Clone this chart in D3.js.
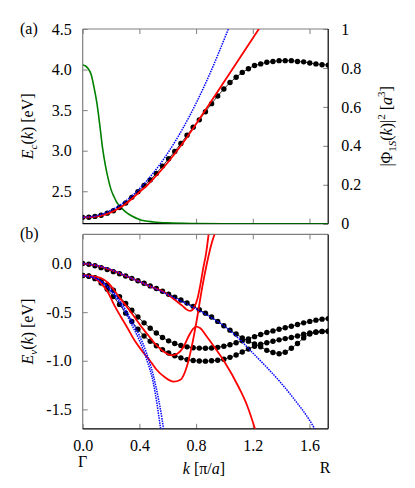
<html>
<head>
<meta charset="utf-8">
<title>band structure</title>
<style>
body { margin: 0; background: #fff; }
text { font-family: 'Liberation Serif', 'Times New Roman', serif; font-size: 16px; fill: #000; }
.tick line { stroke: #808080; }
</style>
</head>
<body>
<div id="chart"></div>
<script src="https://cdnjs.cloudflare.com/ajax/libs/d3/7.8.5/d3.min.js"></script>
<script>

// k grid of the computed points, Gamma -> R  [pi/a]
var kGrid = [0, 0.0433, 0.0866, 0.1299, 0.1732, 0.2165, 0.2598, 0.3031, 0.3464, 0.3897,
  0.4330, 0.4763, 0.5196, 0.5629, 0.6062, 0.6495, 0.6928, 0.7361, 0.7794, 0.8227,
  0.8660, 0.9093, 0.9526, 0.9959, 1.0392, 1.0825, 1.1258, 1.1691, 1.2124, 1.2557,
  1.2990, 1.3423, 1.3856, 1.4289, 1.4722, 1.5155, 1.5588, 1.6021, 1.6454, 1.6887, 1.7321];

// (a) conduction band, dots
var ecDots = [2.178, 2.18, 2.19, 2.205, 2.23, 2.26, 2.30, 2.355, 2.425, 2.495,
  2.57, 2.64, 2.72, 2.81, 2.90, 2.99, 3.09, 3.19, 3.29, 3.38,
  3.48, 3.58, 3.675, 3.76, 3.84, 3.905, 3.965, 4.01, 4.05, 4.07,
  4.09, 4.10, 4.11, 4.11, 4.11, 4.10, 4.095, 4.08, 4.07, 4.06, 4.055];

var ecRed = [[0, 2.178], [0.05, 2.181], [0.1, 2.19], [0.15, 2.21], [0.2, 2.24], [0.25, 2.285],
  [0.3, 2.34], [0.35, 2.41], [0.4, 2.49], [0.45, 2.565], [0.5, 2.655], [0.6, 2.855],
  [0.7, 3.08], [0.8, 3.33], [0.9, 3.59], [1.0, 3.855], [1.1, 4.12], [1.2, 4.385], [1.25, 4.52]];

var ecBlue = [[0, 2.178], [0.1, 2.20], [0.2, 2.265], [0.3, 2.375], [0.4, 2.53], [0.5, 2.73],
  [0.6, 2.97], [0.7, 3.255], [0.8, 3.585], [0.9, 3.96], [1.0, 4.38], [1.03, 4.51]];

// |Phi_1S(k)|^2, right axis
var phiGreen = [[0, 0.815], [0.02, 0.81], [0.04, 0.795], [0.06, 0.765], [0.08, 0.70], [0.10, 0.62],
  [0.12, 0.51], [0.14, 0.39], [0.16, 0.30], [0.18, 0.23], [0.20, 0.175], [0.22, 0.14],
  [0.24, 0.11], [0.26, 0.092], [0.30, 0.062], [0.35, 0.038], [0.40, 0.022], [0.5, 0.009],
  [0.6, 0.004], [0.8, 0.001], [1.0, 0], [1.732, 0]];

// (b) valence bands, dots
var evDotsA = [0, -0.007, -0.023, -0.042, -0.062, -0.083, -0.105, -0.128, -0.152, -0.177,
  -0.203, -0.23, -0.257, -0.285, -0.315, -0.345, -0.375, -0.405, -0.44, -0.475,
  -0.51, -0.55, -0.595, -0.64, -0.685, -0.725, -0.765, -0.798, -0.828, -0.856,
  -0.893, -0.915, -0.928, -0.912, -0.872, -0.822, -0.765, -0.725, -0.707, -0.699, -0.696];
var evDotsB = [-0.123, -0.128, -0.145, -0.175, -0.22, -0.275, -0.34, -0.41, -0.48, -0.55,
  -0.61, -0.665, -0.715, -0.76, -0.795, -0.823, -0.843, -0.857, -0.866, -0.87,
  -0.871, -0.869, -0.862, -0.85, -0.835, -0.815, -0.795, -0.775, -0.752, -0.73,
  -0.71, -0.693, -0.676, -0.66, -0.645, -0.627, -0.61, -0.595, -0.582, -0.572, -0.566];
var evDotsC = [-0.123, -0.13, -0.155, -0.2, -0.265, -0.34, -0.42, -0.51, -0.595, -0.675,
  -0.745, -0.80, -0.845, -0.885, -0.92, -0.948, -0.97, -0.988, -0.998, -1.003,
  -1.004, -1.0, -0.995, -0.985, -0.965, -0.94, -0.91, -0.88, -0.85, -0.83,
  -0.815, -0.80, -0.785, -0.772, -0.76, -0.745, -0.728, -0.713, -0.703, -0.698, -0.696];

var evRed1 = [[0, 0], [0.1, -0.02], [0.2, -0.065], [0.3, -0.125], [0.4, -0.185], [0.5, -0.25],
  [0.57, -0.29], [0.62, -0.34], [0.66, -0.385], [0.7, -0.43], [0.73, -0.47], [0.757, -0.487],
  [0.775, -0.475], [0.79, -0.44], [0.81, -0.36], [0.83, -0.22], [0.85, -0.05], [0.87, 0.1], [0.89, 0.32]];
var evRed2 = [[0, -0.123], [0.06, -0.128], [0.12, -0.145], [0.18, -0.2], [0.22, -0.27], [0.26, -0.35],
  [0.31, -0.44], [0.37, -0.56], [0.43, -0.68], [0.48, -0.77], [0.52, -0.84], [0.58, -0.915],
  [0.63, -0.945], [0.67, -0.925], [0.71, -0.86], [0.75, -0.74], [0.78, -0.67], [0.80, -0.648],
  [0.83, -0.665], [0.87, -0.74], [0.92, -0.84], [1.0, -1.01], [1.1, -1.27], [1.16, -1.46], [1.22, -1.72]];
var evRed3 = [[0, -0.123], [0.06, -0.135], [0.12, -0.19], [0.18, -0.3], [0.22, -0.42], [0.27, -0.55],
  [0.31, -0.648], [0.37, -0.80], [0.43, -0.92], [0.48, -1.01], [0.52, -1.09], [0.58, -1.17],
  [0.64, -1.215], [0.69, -1.195], [0.735, -1.06], [0.77, -0.85], [0.805, -0.58], [0.84, -0.27],
  [0.876, 0.0], [0.91, 0.21], [0.935, 0.32]];

var evBlue1 = [[0, 0], [0.1, -0.02], [0.2, -0.063], [0.3, -0.124], [0.4, -0.185], [0.5, -0.25],
  [0.6, -0.318], [0.7, -0.39], [0.8, -0.465], [0.9, -0.55], [1.0, -0.645], [1.1, -0.77],
  [1.2, -0.92], [1.3, -1.07], [1.4, -1.23], [1.5, -1.41], [1.6, -1.61], [1.645, -1.72]];
var evBlue2 = [[0, -0.123], [0.1, -0.155], [0.2, -0.27], [0.3, -0.47], [0.35, -0.6], [0.4, -0.74],
  [0.45, -0.92], [0.5, -1.16], [0.53, -1.36], [0.56, -1.6], [0.572, -1.72]];
var evBlue3 = [[0, -0.123], [0.1, -0.16], [0.2, -0.285], [0.3, -0.5], [0.35, -0.64], [0.4, -0.79],
  [0.45, -0.98], [0.5, -1.24], [0.525, -1.45], [0.54, -1.6], [0.552, -1.72]];

var xTicks = [0, 0.4, 0.8, 1.2, 1.6];
var ecTicks = [2.5, 3.0, 3.5, 4.0, 4.5];
var phiTicks = [0, 0.2, 0.4, 0.6, 0.8, 1];
var phiTickLabels = ["0", "0.2", "0.4", "0.6", "0.8", "1"];
var evTicks = [-1.5, -1.0, -0.5, 0.0];

var svg = d3.select("#chart").append("svg")
  .attr("width", 415)
  .attr("height", 488);

var x = d3.scaleLinear().domain([0, 1.7321]).range([82.7, 328.2]);
var yTop = d3.scaleLinear().domain([2.1, 4.5]).range([223.7, 29]);
var yPhi = d3.scaleLinear().domain([0, 1]).range([223.7, 29]);
var yBot = d3.scaleLinear().domain([-1.7, 0.3]).range([428.8, 234.4]);

// plain hyphen minus like the original
var fmt1 = function(d) { return d3.format(".1f")(d).replace("\u2212", "-"); };

var defs = svg.append("defs");
defs.append("clipPath").attr("id", "clipTop").append("rect")
  .attr("x", x(0)).attr("y", yTop(4.5))
  .attr("width", x(1.7321) - x(0)).attr("height", yTop(2.1) - yTop(4.5));
defs.append("clipPath").attr("id", "clipBot").append("rect")
  .attr("x", x(0)).attr("y", yBot(0.3))
  .attr("width", x(1.7321) - x(0)).attr("height", yBot(-1.7) - yBot(0.3));

function styleAxis(g) {
  g.attr("font-family", "'Liberation Serif', 'Times New Roman', serif").attr("font-size", 16);
  g.select(".domain").remove();
}

function drawXAxes(top, bottom, showX) {
  svg.append("g").attr("transform", "translate(0," + bottom + ")")
    .call(d3.axisBottom(x).tickValues(xTicks).tickSize(-5).tickPadding(11)
      .tickFormat(showX ? fmt1 : ""))
    .call(styleAxis);
  svg.append("g").attr("transform", "translate(0," + top + ")")
    .call(d3.axisTop(x).tickValues(xTicks).tickSize(-5).tickFormat(""))
    .call(styleAxis);
}

// ----- panel (a)
drawXAxes(yTop(4.5), yTop(2.1), false);

svg.append("g").attr("transform", "translate(" + x(0) + ",0)")
  .call(d3.axisLeft(yTop).tickValues(ecTicks).tickSize(-5).tickPadding(11).tickFormat(fmt1))
  .call(styleAxis);

svg.append("g").attr("transform", "translate(" + x(1.7321) + ",0)")
  .call(d3.axisRight(yPhi).tickValues(phiTicks).tickSize(-5).tickPadding(13)
    .tickFormat(function(d, i) { return phiTickLabels[i]; }))
  .call(styleAxis);

// ----- panel (b)
drawXAxes(yBot(0.3), yBot(-1.7), true);
svg.append("g").attr("transform", "translate(" + x(0) + ",0)")
  .call(d3.axisLeft(yBot).tickValues(evTicks).tickSize(-5).tickPadding(11).tickFormat(fmt1))
  .call(styleAxis);

// frames: left/top grey, right/bottom black
function frame(y0, y1) {
  svg.append("line").attr("x1", x(0)).attr("x2", x(0)).attr("y1", y0).attr("y2", y1)
    .attr("stroke", "#808080").attr("stroke-width", 1.2);
  svg.append("line").attr("x1", x(0)).attr("x2", x(1.7321)).attr("y1", y0).attr("y2", y0)
    .attr("stroke", "#808080").attr("stroke-width", 1.2);
  svg.append("line").attr("x1", x(1.7321)).attr("x2", x(1.7321)).attr("y1", y0).attr("y2", y1)
    .attr("stroke", "#000").attr("stroke-width", 1.2);
  svg.append("line").attr("x1", x(0)).attr("x2", x(1.7321)).attr("y1", y1).attr("y2", y1)
    .attr("stroke", "#000").attr("stroke-width", 1.2);
}
frame(yTop(4.5), yTop(2.1));
frame(yBot(0.3), yBot(-1.7));

// curves
function curve(g, data, y, color, width, dash) {
  var line = d3.line()
    .x(function(d) { return x(d[0]); })
    .y(function(d) { return y(d[1]); })
    .curve(d3.curveMonotoneX);
  var p = g.append("path")
    .datum(data)
    .attr("d", line)
    .attr("fill", "none")
    .attr("stroke", color)
    .attr("stroke-width", width);
  if (dash) p.attr("stroke-dasharray", dash);
}

function dots(g, values, y) {
  var pts = kGrid.map(function(k, i) { return [k, values[i]]; });
  g.append("path")
    .datum(pts)
    .attr("d", d3.line().x(function(d) { return x(d[0]); }).y(function(d) { return y(d[1]); }))
    .attr("fill", "none")
    .attr("stroke", "#000")
    .attr("stroke-width", 0.8);
  g.selectAll(null)
    .data(pts)
    .enter()
    .append("circle")
    .attr("cx", function(d) { return x(d[0]); })
    .attr("cy", function(d) { return y(d[1]); })
    .attr("r", 2.7)
    .attr("fill", "#000");
}

var gTop = svg.append("g").attr("clip-path", "url(#clipTop)");
curve(gTop, phiGreen, yPhi, "#008000", 1.6);
dots(gTop, ecDots, yTop);
curve(gTop, ecRed, yTop, "#ff0000", 1.8);
curve(gTop, ecBlue, yTop, "#0000ff", 1.5, "1.5,1");

var gBot = svg.append("g").attr("clip-path", "url(#clipBot)");
dots(gBot, evDotsA, yBot);
dots(gBot, evDotsB, yBot);
dots(gBot, evDotsC, yBot);
curve(gBot, evRed1, yBot, "#ff0000", 1.8);
curve(gBot, evRed2, yBot, "#ff0000", 1.8);
curve(gBot, evRed3, yBot, "#ff0000", 1.8);
curve(gBot, evBlue1, yBot, "#0000ff", 1.5, "1.5,1");
curve(gBot, evBlue2, yBot, "#0000ff", 1.5, "1.5,1");
curve(gBot, evBlue3, yBot, "#0000ff", 1.5, "1.5,1");

// panel letters
svg.append("text").attr("x", 20).attr("y", 34).text("(a)");
svg.append("text").attr("x", 20).attr("y", 239).text("(b)");

// y labels
var lab1 = svg.append("text")
  .attr("transform", "translate(33," + ((yTop(4.5) + yTop(2.1)) / 2) + ") rotate(-90)")
  .attr("text-anchor", "middle");
lab1.append("tspan").attr("font-style", "italic").text("E");
lab1.append("tspan").attr("font-style", "italic").attr("font-size", "11px").attr("dy", 4).text("c");
lab1.append("tspan").attr("dy", -4).text("(");
lab1.append("tspan").attr("font-style", "italic").text("k");
lab1.append("tspan").text(") [eV]");

var lab2 = svg.append("text")
  .attr("transform", "translate(33," + ((yBot(0.3) + yBot(-1.7)) / 2) + ") rotate(-90)")
  .attr("text-anchor", "middle");
lab2.append("tspan").attr("font-style", "italic").text("E");
lab2.append("tspan").attr("font-style", "italic").attr("font-size", "11px").attr("dy", 4).text("v");
lab2.append("tspan").attr("dy", -4).text("(");
lab2.append("tspan").attr("font-style", "italic").text("k");
lab2.append("tspan").text(") [eV]");

var lab3 = svg.append("text")
  .attr("transform", "translate(392," + ((yPhi(0) + yPhi(1)) / 2) + ") rotate(-90)")
  .attr("text-anchor", "middle");
lab3.append("tspan").text("|Φ");
lab3.append("tspan").attr("font-size", "11px").attr("dy", 4).text("1");
lab3.append("tspan").attr("font-size", "11px").attr("font-style", "italic").text("S");
lab3.append("tspan").attr("dy", -4).text("(");
lab3.append("tspan").attr("font-style", "italic").text("k");
lab3.append("tspan").text(")|");
lab3.append("tspan").attr("font-size", "11px").attr("dy", -7).text("2");
lab3.append("tspan").attr("dy", 7).text(" [");
lab3.append("tspan").attr("font-style", "italic").text("a");
lab3.append("tspan").attr("font-size", "11px").attr("dy", -7).text("3");
lab3.append("tspan").attr("dy", 7).text("]");

// x label and points
var labx = svg.append("text").attr("x", 204).attr("y", 474).attr("text-anchor", "middle");
labx.append("tspan").attr("font-style", "italic").text("k");
labx.append("tspan").text(" [π/");
labx.append("tspan").attr("font-style", "italic").text("a");
labx.append("tspan").text("]");

svg.append("text").attr("x", x(0)).attr("y", 467).attr("text-anchor", "middle").text("Γ");
svg.append("text").attr("x", 325).attr("y", 473).attr("text-anchor", "middle").text("R");

</script>
</body>
</html>
